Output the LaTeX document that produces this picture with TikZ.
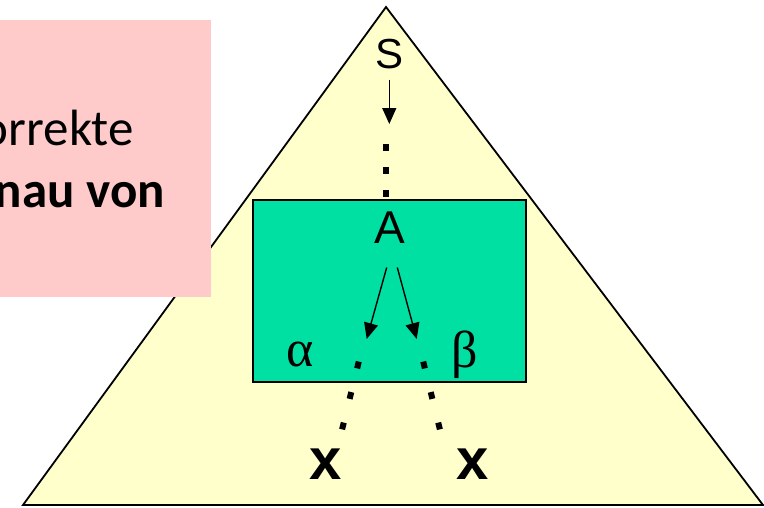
\documentclass[tikz,border=0pt]{standalone}
\usepackage{fontspec}
\usetikzlibrary{arrows.meta}
\newfontfamily\carlitof{Carlito}
\newfontfamily\sansf{Liberation Sans}
\newfontfamily\seriff{Liberation Serif}
\definecolor{pinkbg}{HTML}{FFCACA}
\definecolor{yellowbg}{HTML}{FFFFCC}
\definecolor{greenbg}{HTML}{00E0A3}
\begin{document}
\begin{tikzpicture}[x=1pt,y=-1pt,
  lbl/.style={inner sep=0pt,anchor=base},
  arr/.style={line width=1.4pt,-{Triangle[width=14pt,length=16pt]}},
  dotline/.style={line width=6pt},
]
\useasboundingbox (0,0) rectangle (764,507);
% triangle
\coordinate (apex) at (386,7);
\coordinate (bl) at (23,505);
\coordinate (br) at (763,505);
\draw[fill=yellowbg,line width=1.8pt,line join=miter] (apex) -- (bl) -- (br) -- cycle;
% pink box
\fill[pinkbg] (-2,20) rectangle (211,297);
\node[inner sep=0pt,anchor=base east,font=\carlitof\fontsize{51}{60}\selectfont] (t1) at (134,145) {orrekte};
\node[inner sep=0pt,anchor=base east,font=\carlitof\bfseries\fontsize{51}{60}\selectfont] (t2) at (165,207) {nau von};
% green box
\draw[fill=greenbg,line width=1.6pt] (253,200) rectangle (526,382);
% labels
\node[lbl,font=\sansf\fontsize{42}{48}\selectfont] (S) at (390,68) {S};
\node[lbl,font=\sansf\fontsize{46}{52}\selectfont] (A) at (390,243.3) {A};
\node[lbl,font=\seriff\fontsize{52}{60}\selectfont] (alpha) at (300,366.7) {α};
\node[lbl,font=\seriff\fontsize{52}{60}\selectfont] (beta) at (465,367) {β};
\node[lbl,font=\sansf\bfseries\fontsize{58}{64}\selectfont] (x1) at (326,479) {x};
\node[lbl,font=\sansf\bfseries\fontsize{58}{64}\selectfont] (x2) at (473,479) {x};
% arrows
\coordinate (sTip) at (389.3,124);
\draw[arr] ([xshift=-0.7pt,yshift=-11pt]S.south) -- (sTip);
\coordinate (aL) at (366.7,339);
\coordinate (aR) at (416.7,339);
\draw[arr] ([xshift=-3.3pt,yshift=-24pt]A.south) -- (aL);
\draw[arr] ([xshift=7.3pt,yshift=-24pt]A.south) -- (aR);
% dotted continuations
\coordinate (d1s) at (385.5,144);
\coordinate (d1e) at (385.5,196.5);
\draw[dotline,dash pattern=on 6.5pt off 16.5pt] (d1s) -- (d1e);
\coordinate (d2s) at (358.8,361.6);
\coordinate (d2e) at (342.1,429.4);
\draw[dotline,dash pattern=on 7pt off 24.4pt] (d2s) -- (d2e);
\coordinate (d3s) at (423.2,361.6);
\coordinate (d3e) at (439.9,429.4);
\draw[dotline,dash pattern=on 7pt off 24.4pt] (d3s) -- (d3e);
\end{tikzpicture}
\end{document}
